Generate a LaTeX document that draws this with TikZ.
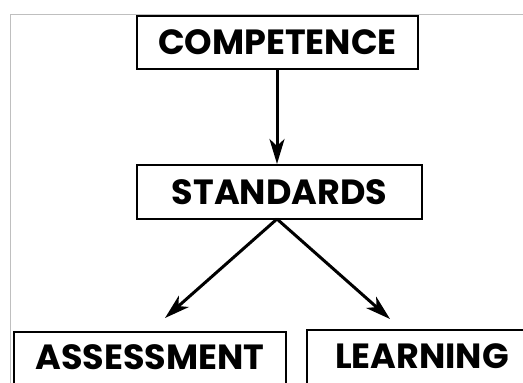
\documentclass[tikz,border=0pt]{standalone}
\usepackage{fontspec}
\setmainfont{Poppins}
\usetikzlibrary{arrows.meta}

\tikzset{
	levelbox/.style={draw=black, line width=2pt, inner sep=0pt, font=\fontsize{35}{35}\selectfont\bfseries},
	leadline/.style={draw=black, line width=3pt, -{Stealth[length=25pt, width=15pt, inset=7pt]}}
}

\begin{document}
\begin{tikzpicture}[x=1pt, y=-1pt]
		\useasboundingbox	(0, 0) rectangle (523, 383);
		\clip	(0, 0) rectangle (523, 383);

		\draw[gray!50, line width=1pt]	(10, 383) to (10, 14) to (523, 14);

		\node[levelbox, minimum width=281pt, minimum height=53pt]	(competence) at (277.5, 42.5) {COMPETENCE};
		\node[levelbox, minimum width=285pt, minimum height=54pt]	(standards) at (279.5, 192) {STANDARDS};
		\node[levelbox, minimum width=272pt, minimum height=56pt, text depth=6pt]	(assessment) at (150, 360) {ASSESSMENT};
		\node[levelbox, minimum width=230pt, minimum height=58pt, text depth=6pt]	(learning) at (422, 359) {LEARNING};

		\coordinate	(split) at (277, 219);
		\coordinate	(tipA) at (165, 318);
		\coordinate	(tipL) at (390, 319);

		\draw[leadline]	(competence.south -| split) to (standards.north -| split);
		\draw[leadline]	(split) to (tipA);
		\draw[leadline]	(split) to (tipL);
	\end{tikzpicture}
\end{document}
